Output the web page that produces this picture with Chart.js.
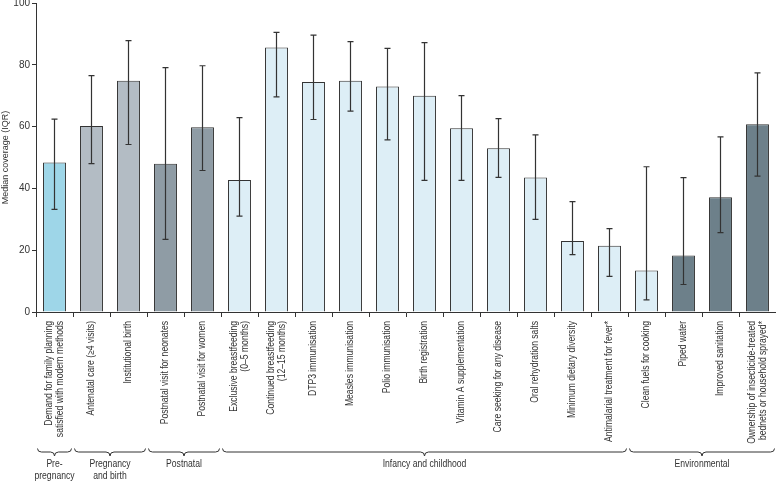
<!DOCTYPE html>
<html>
<head>
<meta charset="utf-8">
<script src="https://cdn.jsdelivr.net/npm/chart.js@4.4.1/dist/chart.umd.min.js"></script>
<style>
  html, body { margin: 0; padding: 0; background: #fff; }
  #wrap { width: 776px; height: 481px; }
</style>
</head>
<body>
<div id="wrap"><canvas id="chart"></canvas></div>
<script>
// indicator names (two-line labels are split into arrays)
const categories = [
  ['Demand for family planning', 'satisfied with modern methods'],
  ['Antenatal care (≥4 visits)'],
  ['Institutional birth'],
  ['Postnatal visit for neonates'],
  ['Postnatal visit for women'],
  ['Exclusive breastfeeding', '(0–5 months)'],
  ['Continued breastfeeding', '(12–15 months)'],
  ['DTP3 immunisation'],
  ['Measles immunisation'],
  ['Polio immunisation'],
  ['Birth registration'],
  ['Vitamin A supplementation'],
  ['Care seeking for any disease'],
  ['Oral rehydration salts'],
  ['Minimum dietary diversity'],
  ['Antimalarial treatment for fever*'],
  ['Clean fuels for cooking'],
  ['Piped water'],
  ['Improved sanitation'],
  ['Ownership of insecticide-treated', 'bednets or household sprayed*'],
];
const medianCoverage = [48.4, 60.2, 74.8, 48.0, 59.8, 42.7, 85.6, 74.4, 74.8, 73.0, 70.0, 59.5, 53.0, 43.5, 23.0, 21.4, 13.4, 18.3, 37.1, 60.8];
const iqrLow = [33.2, 48.0, 54.2, 23.5, 45.8, 31.0, 69.6, 62.3, 65.0, 55.7, 42.6, 42.6, 43.6, 30.0, 18.6, 11.5, 3.9, 8.9, 25.7, 44.0];
const iqrHigh = [62.4, 76.5, 87.8, 79.1, 79.7, 62.9, 90.5, 89.6, 87.5, 85.3, 87.2, 70.0, 62.6, 57.3, 35.7, 27.0, 47.0, 43.5, 56.7, 77.4];
const yTicks = [0, 20, 40, 60, 80, 100];

// life-course groups shown with braces under the labels
const groupNames = [['Pre-', 'pregnancy'], ['Pregnancy', 'and birth'], ['Postnatal'], ['Infancy and childhood'], ['Environmental']];
const groupFirst = [0, 1, 3, 5, 16];
const groupLast = [0, 2, 4, 15, 19];

// styling
const FONT = '"Liberation Sans", Arial, sans-serif';
const INK = '#333';
const SQUEEZE = 0.86; // no narrow face installed, so condense the text a little
const barColors = [
  '#9ed6e8',
  '#b3bcc4', '#b3bcc4',
  '#8f9ca5', '#8f9ca5',
  '#ddeef6', '#ddeef6', '#ddeef6', '#ddeef6', '#ddeef6', '#ddeef6',
  '#ddeef6', '#ddeef6', '#ddeef6', '#ddeef6', '#ddeef6', '#ddeef6',
  '#6d808a', '#6d808a', '#6d808a',
];

const errorBars = {
  id: 'errorBars',
  afterDatasetsDraw(chart) {
    const { ctx } = chart;
    const y = chart.scales.y;
    const meta = chart.getDatasetMeta(0);
    ctx.save();
    ctx.strokeStyle = INK;
    ctx.lineWidth = 1.2;
    meta.data.forEach((bar, i) => {
      const top = y.getPixelForValue(iqrHigh[i]);
      const bot = y.getPixelForValue(iqrLow[i]);
      ctx.beginPath();
      ctx.moveTo(bar.x, top);
      ctx.lineTo(bar.x, bot);
      ctx.moveTo(bar.x - 3, top);
      ctx.lineTo(bar.x + 3, top);
      ctx.moveTo(bar.x - 3, bot);
      ctx.lineTo(bar.x + 3, bot);
      ctx.stroke();
    });
    ctx.restore();
  }
};

const labelsAndGroups = {
  id: 'labelsAndGroups',
  afterDraw(chart) {
    const { ctx, chartArea } = chart;
    const x = chart.scales.x;
    const step = x.width / categories.length;
    ctx.save();
    ctx.fillStyle = INK;
    ctx.font = '10px ' + FONT;

    // rotated category labels, end of text next to the axis
    categories.forEach((lines, i) => {
      const cx = x.getPixelForValue(i);
      ctx.save();
      ctx.translate(cx, chartArea.bottom + 9);
      ctx.rotate(-Math.PI / 2);
      ctx.scale(SQUEEZE, 1);
      ctx.textAlign = 'right';
      ctx.textBaseline = 'middle';
      lines.forEach((ln, j) => {
        ctx.fillText(ln, 0, (j - (lines.length - 1) / 2) * 11);
      });
      ctx.restore();
    });

    // braces
    ctx.strokeStyle = INK;
    ctx.lineWidth = 1;
    const yTop = 448.5, yMid = 452, yTip = 456;
    groupNames.forEach((name, g) => {
      const l = x.getPixelForValue(groupFirst[g]) - step / 2 + 1.5;
      const r = x.getPixelForValue(groupLast[g]) + step / 2 - 1.5;
      const m = (l + r) / 2;
      ctx.beginPath();
      ctx.moveTo(l, yTop);
      ctx.quadraticCurveTo(l, yMid, l + 4, yMid);
      ctx.lineTo(m - 4, yMid);
      ctx.quadraticCurveTo(m, yMid, m, yTip);
      ctx.quadraticCurveTo(m, yMid, m + 4, yMid);
      ctx.lineTo(r - 4, yMid);
      ctx.quadraticCurveTo(r, yMid, r, yTop);
      ctx.stroke();

      ctx.textAlign = 'center';
      ctx.textBaseline = 'middle';
      name.forEach((ln, j) => {
        ctx.save();
        ctx.translate(m, 464 + j * 12.3);
        ctx.scale(SQUEEZE, 1);
        ctx.fillText(ln, 0, 0);
        ctx.restore();
      });
    });
    ctx.restore();
  }
};

new Chart(document.getElementById('chart'), {
  type: 'bar',
  data: {
    labels: categories,
    datasets: [{
      label: 'Median coverage',
      data: medianCoverage,
      backgroundColor: barColors,
      borderColor: INK,
      borderWidth: 1,
      categoryPercentage: 1,
      barPercentage: 0.62,
    }],
  },
  options: {
    responsive: true,
    maintainAspectRatio: false,
    animation: false,
    layout: { padding: { top: 3, right: 0, bottom: 164, left: 0 } },
    plugins: { legend: { display: false }, tooltip: { enabled: false } },
    scales: {
      x: {
        ticks: { display: false },
        grid: { drawOnChartArea: false, drawTicks: true, tickLength: 5, color: INK, offset: true },
        border: { color: INK, width: 1 },
        afterFit: (s) => { s.paddingLeft = 0; s.paddingRight = 0; },
      },
      y: {
        min: 0,
        max: 100,
        afterBuildTicks: (s) => { s.ticks = yTicks.map((v) => ({ value: v })); },
        afterFit: (s) => { s.width = 36; s.paddingTop = 0; s.paddingBottom = 0; },
        ticks: { color: INK, padding: 2, font: { family: FONT, size: 10 } },
        grid: { drawOnChartArea: false, drawTicks: true, tickLength: 4, color: INK },
        border: { color: INK, width: 1 },
        title: {
          display: true,
          text: 'Median coverage (IQR)',
          color: INK,
          padding: 0,
          font: { family: FONT, size: 9 },
        },
      },
    },
  },
  plugins: [errorBars, labelsAndGroups],
});
</script>
</body>
</html>
